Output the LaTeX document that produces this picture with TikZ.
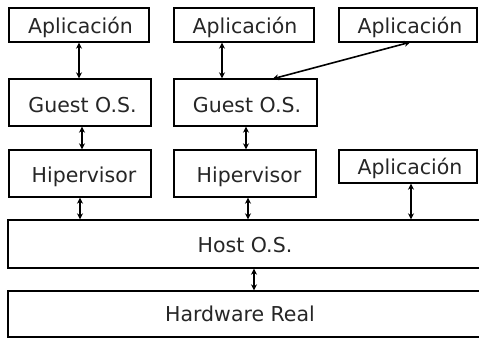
\documentclass[tikz,border=0pt]{standalone}
\usepackage{fontspec}
\setmainfont{DejaVu Sans}
\usetikzlibrary{arrows.meta}
\begin{document}
\begin{tikzpicture}[x=1pt,y=-1pt,
  box/.style={draw=black,line width=1.7pt,inner sep=0pt,outer sep=0pt,fill=white},
  lbl/.style={inner sep=0pt,outer sep=0pt,text height=15pt,text depth=0pt,font=\fontsize{20.5}{24}\selectfont,text=black!85},
  conn/.style={line width=1.6pt,{Stealth[length=6pt,width=6pt]}-{Stealth[length=6pt,width=6pt]},shorten <=0.7pt,shorten >=0.7pt}]
\useasboundingbox (0,0) rectangle (479,338);
\clip (0,0) rectangle (479,338);
% boxes
\node[box,minimum width=140pt,minimum height=34pt] (a1) at (79,25) {};
\node[box,minimum width=140pt,minimum height=34pt] (a2) at (244,25) {};
\node[box,minimum width=138pt,minimum height=34pt] (a3) at (408,25) {};
\node[box,minimum width=142pt,minimum height=47pt] (g1) at (80,102.5) {};
\node[box,minimum width=143pt,minimum height=47pt] (g2) at (245.5,102.5) {};
\node[box,minimum width=142pt,minimum height=47pt] (h1) at (80,173.5) {};
\node[box,minimum width=142pt,minimum height=47pt] (h2) at (245,173.5) {};
\node[box,minimum width=138pt,minimum height=33pt] (a4) at (408,166.5) {};
\node[box,minimum width=476pt,minimum height=48pt] (host) at (246,244) {};
\node[box,minimum width=476pt,minimum height=46pt] (hw) at (246,314) {};
% labels
\node[lbl] (t1) at (80.5,26) {Aplicación};
\node[lbl] (t2) at (245,26) {Aplicación};
\node[lbl] (t3) at (410,26) {Aplicación};
\node[lbl] (t4) at (82.5,104.5) {Guest O.S.};
\node[lbl] (t5) at (247,104.5) {Guest O.S.};
\node[lbl] (t6) at (84,175) {Hipervisor};
\node[lbl] (t7) at (249,175) {Hipervisor};
\node[lbl] (t8) at (410,167) {Aplicación};
\node[lbl] (t9) at (245,244.5) {Host O.S.};
\node[lbl] (t10) at (240,313.5) {Hardware Real};
% connectors
\draw[conn] (a1.south -| 79,0) -- (g1.north -| 79,0);
\draw[conn] (g1.south -| 82,0) -- (h1.north -| 82,0);
\draw[conn] (h1.south -| 80,0) -- (host.north -| 80,0);
\draw[conn] (a2.south -| 222,0) -- (g2.north -| 222,0);
\draw[conn] (g2.south -| 246,0) -- (h2.north -| 246,0);
\draw[conn] (h2.south -| 248,0) -- (host.north -| 248,0);
\draw[conn] (a4.south -| 411,0) -- (host.north -| 411,0);
\draw[conn] (host.south -| 254,0) -- (hw.north -| 254,0);
\draw[conn] (g2.north -| 272,0) -- (a3.south -| 411,0);
\end{tikzpicture}
\end{document}
